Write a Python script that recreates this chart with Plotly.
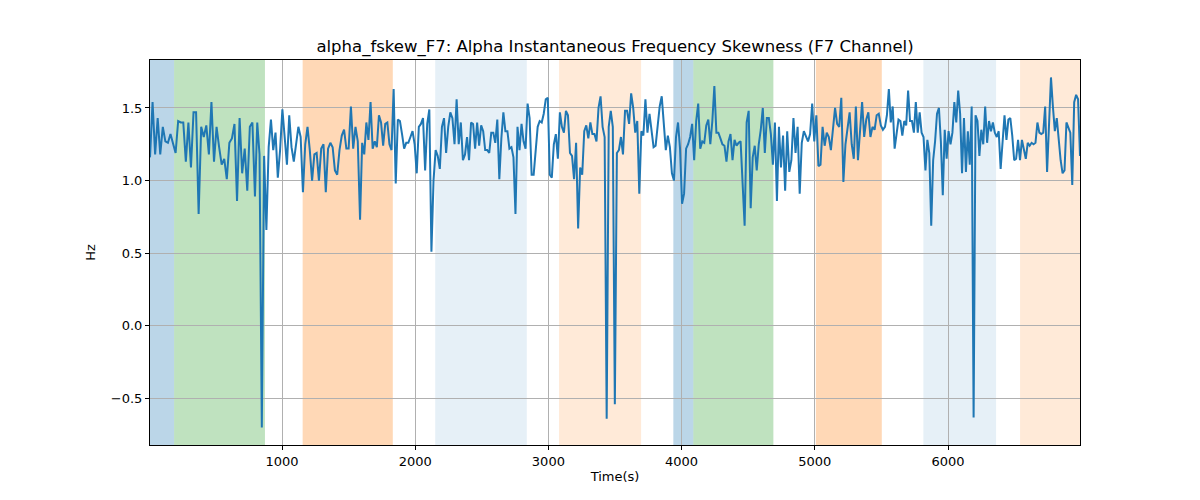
import numpy as np
import plotly.graph_objects as go

# Segment start times (s); each segment's values are evenly spread
seg_starts = [9, 797, 1586, 2374, 3162, 3958, 4746, 5527, 6308]
t_end = 6991

seg1 = [1.16,1.54,1.18,1.43,1.18,1.37,1.27,1.26,1.32,1.26,1.19,1.41,1.40,1.40,1.13,1.40,1.09,1.47,1.47,0.77,1.37,1.30,1.38,1.18,1.54,1.13,1.37,1.23,1.11,1.15,1.01,1.26,1.29,1.39,0.86,1.43,1.05,1.22,0.93,1.37,1.40]
seg2 = [0.89,1.40,1.18,-0.70,1.17,0.66,1.23,1.42,1.21,1.33,1.02,1.21,1.49,1.30,1.11,1.45,1.23,1.13,1.25,1.37,1.30,0.92,1.25,1.37,1.21,1.00,1.18,1.19,1.00,1.22,1.25,0.92,1.22,1.26,1.23,1.07,1.04,1.21,1.31,1.35,1.22,1.22,1.51,1.22,1.37,1.27]
seg3 = [0.73,1.26,1.18,1.40,1.28,1.54,1.22,1.27,1.23,1.45,1.40,1.24,1.39,1.40,1.25,1.21,1.63,0.98,1.42,1.41,1.32,1.22,1.26,1.26,1.30,1.34,1.25,1.05,1.37,1.39,1.43,1.07,1.39,1.49,0.51,1.00,1.21,1.17,1.08,1.37,1.43,1.19,1.37,1.47,1.43,1.25,1.56,1.25,1.40,1.14]
seg4 = [1.18,1.30,1.14,1.40,1.39,1.22,1.40,1.24,1.38,1.34,1.21,1.21,1.19,1.33,1.33,1.26,1.42,1.01,1.29,1.47,1.34,1.34,1.22,1.23,1.16,0.77,1.37,1.21,1.39,1.27,1.22,1.53,1.43,1.04,1.04,1.21,1.37,1.41,1.40,1.46,1.56,1.57,1.04,1.02,1.25,1.32,1.15,1.47,1.37,1.33,1.48,1.45]
seg5 = [1.19,1.17,1.01,1.26,0.67,1.09,1.04,1.34,1.38,1.29,1.40,1.32,1.32,1.27,1.50,1.58,1.37,1.30,-0.64,1.37,1.48,1.37,-0.54,1.19,1.21,1.30,1.18,1.48,1.48,1.39,1.60,1.50,1.33,1.41,0.91,1.34,1.31,1.56,1.33,1.46,1.32,1.23,1.24,1.37,1.51,1.58,1.42,1.21,1.31,1.23,1.05,1.00]
seg6 = [1.30,1.40,1.22,0.84,0.91,1.22,1.25,1.30,1.39,1.14,1.41,1.53,1.22,1.27,1.26,1.38,1.42,1.25,1.41,1.65,1.33,1.33,1.29,1.25,1.24,1.13,1.27,1.32,1.14,1.28,1.24,1.26,1.27,0.95,0.69,1.40,1.48,0.81,1.16,1.24,1.07,1.25,1.35,1.50,1.19,1.43,1.43,1.32,1.11,1.40,0.86,1.37]
seg7 = [1.09,1.31,0.93,1.34,1.06,1.14,1.43,1.19,1.37,0.91,1.26,1.34,1.31,1.27,1.32,1.53,1.27,1.45,1.10,1.11,1.37,1.24,1.33,1.30,1.21,1.37,1.50,1.39,1.37,1.57,0.99,1.25,1.37,1.47,1.25,1.15,1.51,1.14,1.34,1.54,1.30,1.42,1.47,1.30,1.37,1.35,1.45,1.46,1.38,1.35]
seg8 = [1.37,1.45,1.63,1.40,1.51,1.22,1.32,1.42,1.41,1.31,1.41,1.38,1.62,1.41,1.41,1.33,1.54,1.33,1.47,1.33,1.30,1.07,1.28,1.19,0.69,1.14,1.27,1.46,1.50,1.27,0.90,1.35,1.15,1.34,1.25,1.33,1.54,1.40,1.62,1.46,1.05,1.43,1.06,1.34,1.11,1.51,-0.63,1.45,1.41,1.17,1.35,1.25,1.51,1.26]
seg9 = [1.41,1.34,1.40,1.33,1.30,1.34,1.08,1.26,1.45,1.28,1.42,1.43,1.31,1.14,1.15,1.28,1.14,1.28,1.22,1.15,1.26,1.24,1.26,1.25,1.26,1.40,1.33,1.32,1.33,1.51,1.06,1.45,1.71,1.51,1.34,1.43,1.25,1.14,1.05,1.07,1.40,1.37,1.33,0.97,1.54,1.59,1.56,1.17]
segments = [seg1, seg2, seg3, seg4, seg5, seg6, seg7, seg8, seg9]

# Shaded periods: (start, end, colour)
span_starts = [9, 190, 1155, 2150, 3080, 3938, 4088, 5008, 5815, 6541]
span_ends = [190, 872, 1832, 2838, 3696, 4088, 4689, 5503, 6361, 6991]
span_colors = ["rgba(31,119,180,0.3)", "rgba(44,160,44,0.3)", "rgba(255,127,14,0.3)",
               "rgba(31,119,180,0.11)", "rgba(255,127,14,0.16)", "rgba(31,119,180,0.3)",
               "rgba(44,160,44,0.3)", "rgba(255,127,14,0.3)", "rgba(31,119,180,0.11)",
               "rgba(255,127,14,0.16)"]

x_ticks = [1000, 2000, 3000, 4000, 5000, 6000]
y_ticks = [-0.5, 0.0, 0.5, 1.0, 1.5]
y_tick_text = ["−0.5", "0.0", "0.5", "1.0", "1.5"]

times, values = [], []
bounds = seg_starts + [t_end]
for i, seg in enumerate(segments):
    n = len(seg)
    a, b = bounds[i], bounds[i + 1]
    if i == len(segments) - 1:
        ts = np.linspace(a, b, n)
    else:
        ts = a + (b - a) * np.arange(n) / n
    times.extend(ts.tolist())
    values.extend(seg)

fig = go.Figure()
fig.add_trace(go.Scatter(x=times, y=values, mode="lines",
                         line=dict(color="#1f77b4", width=2), showlegend=False))

shapes = []
for s, e, c in zip(span_starts, span_ends, span_colors):
    shapes.append(dict(type="rect", xref="x", yref="paper", x0=s, x1=e, y0=0, y1=1,
                       fillcolor=c, line=dict(width=0), layer="below"))

fig.update_layout(
    width=1200, height=500,
    margin=dict(l=142, r=128, t=52, b=63, autoexpand=False),
    paper_bgcolor="white", plot_bgcolor="white",
    font=dict(family="DejaVu Sans", color="black", size=13),
    title=dict(text="alpha_fskew_F7: Alpha Instantaneous Frequency Skewness (F7 Channel)",
               x=0.5, xref="paper", xanchor="center", y=1 - 38 / 500, yanchor="middle",
               font=dict(size=16.5, color="black")),
    shapes=shapes,
)
fig.update_xaxes(range=[9, 6991], tickvals=x_ticks, showgrid=True, gridcolor="#b0b0b0",
                 gridwidth=0.8, zeroline=False, showline=True, linecolor="black", linewidth=1,
                 mirror=True, ticks="outside", ticklen=4, tickcolor="black", automargin=False,
                 title=dict(text="Time(s)", standoff=4, font=dict(size=13)))
fig.update_yaxes(range=[-0.82, 1.83], tickvals=y_ticks, ticktext=y_tick_text,
                 showgrid=True, gridcolor="#b0b0b0",
                 gridwidth=0.8, zeroline=False, showline=True, linecolor="black", linewidth=1,
                 mirror=True, ticks="outside", ticklen=4, tickcolor="black", automargin=False,
                 title=dict(text="Hz", standoff=12, font=dict(size=13)))

fig.write_html("out.html")
